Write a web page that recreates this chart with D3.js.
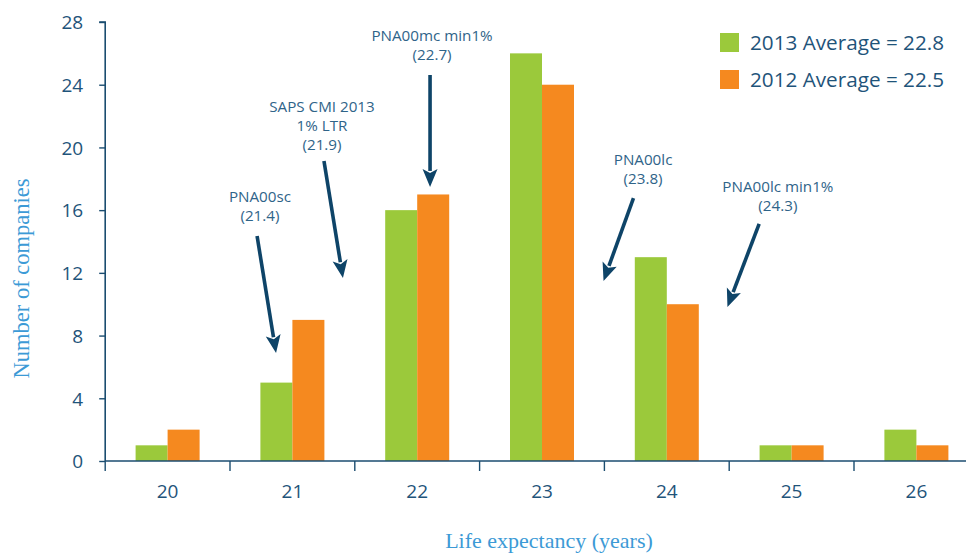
<!DOCTYPE html>
<html>
<head>
<meta charset="utf-8">
<script src="https://cdn.jsdelivr.net/npm/d3@7"></script>
<style>
  html, body { margin: 0; padding: 0; background: #ffffff; }
  svg { display: block; }
</style>
</head>
<body>
<svg id="chart" width="966" height="555"></svg>
<script>
// Life expectancy distribution, number of companies per year of life expectancy
const categories = ["20", "21", "22", "23", "24", "25", "26"];
const seriesNames = ["2013 Average = 22.8", "2012 Average = 22.5"];
const values2013 = [1, 5, 16, 26, 13, 1, 2];
const values2012 = [2, 9, 17, 24, 10, 1, 1];
const yTicks = [0, 4, 8, 12, 16, 20, 24, 28];

// Mortality table callouts (label lines)
const calloutLabels = [
  ["PNA00sc", "(21.4)"],
  ["SAPS CMI 2013", "1% LTR", "(21.9)"],
  ["PNA00mc min1%", "(22.7)"],
  ["PNA00lc", "(23.8)"],
  ["PNA00lc min1%", "(24.3)"]
];

const colors = ["#9bc93b", "#f5891f"];
const axisColor = "#1b4d70";
const tickTextColor = "#1f547a";
const titleColor = "#3c9ad6";
const noteColor = "#2f6489";
const arrowColor = "#0e4468";

const svg = d3.select("#chart");
const margin = { left: 105.2, top: 22, bottom: 461 };
const bandW = 124.8;

const x = d3.scaleBand()
  .domain(categories)
  .range([margin.left, margin.left + bandW * categories.length])
  .padding(0);

// continuous companion of the band scale, in years
const xLin = d3.scaleLinear()
  .domain([19.5, 19.5 + categories.length])
  .range(x.range());

const y = d3.scaleLinear().domain([0, 28]).range([margin.bottom, margin.top]);

const barW = 32;
const sub = d3.scaleBand()
  .domain([0, 1])
  .range([x.bandwidth() / 2 - barW, x.bandwidth() / 2 + barW])
  .padding(0);

// bars
const series = [values2013, values2012];
const g = svg.append("g");
series.forEach((vals, si) => {
  g.selectAll(".bar" + si)
    .data(vals)
    .enter().append("rect")
    .attr("x", (d, i) => x(categories[i]) + sub(si))
    .attr("y", d => y(d))
    .attr("width", sub.bandwidth())
    .attr("height", d => y(0) - y(d))
    .attr("fill", colors[si]);
});

// y axis
const yAxis = svg.append("g")
  .attr("transform", `translate(${margin.left},0)`)
  .call(d3.axisLeft(y).tickValues(yTicks).tickSize(6).tickPadding(16));
yAxis.select(".domain").attr("stroke", axisColor).attr("stroke-width", 1.6)
  .attr("d", `M-6,${y(28)}H0V${y(0)}`);
yAxis.selectAll(".tick line").attr("stroke", axisColor).attr("stroke-width", 1.4);
yAxis.selectAll(".tick text")
  .attr("fill", tickTextColor)
  .attr("font-family", "'Open Sans', sans-serif")
  .attr("font-size", 19)
  .attr("dy", "0.36em");

// x axis: ticks at band boundaries
const xAxisG = svg.append("g").attr("transform", `translate(0,${y(0)})`);
const [r0, r1] = x.range();
xAxisG.append("line")
  .attr("x1", r0).attr("x2", r1)
  .attr("stroke", axisColor).attr("stroke-width", 1.6);
const bounds = categories.map(c => x(c));
xAxisG.selectAll(".bound").data(bounds).enter().append("line")
  .attr("x1", d => d).attr("x2", d => d)
  .attr("y1", 0).attr("y2", 10)
  .attr("stroke", axisColor).attr("stroke-width", 1.4);
xAxisG.selectAll(".lbl").data(categories).enter().append("text")
  .attr("x", d => x(d) + x.bandwidth() / 2)
  .attr("y", 37)
  .attr("text-anchor", "middle")
  .attr("fill", tickTextColor)
  .attr("font-family", "'Open Sans', sans-serif")
  .attr("font-size", 19)
  .text(d => d);

// axis titles
svg.append("text")
  .attr("transform", `translate(29,${(y(0) + y(28)) / 2 + 37}) rotate(-90)`)
  .attr("text-anchor", "middle")
  .attr("fill", titleColor)
  .attr("font-family", "'Liberation Serif', 'Times New Roman', serif")
  .attr("font-size", 22.5)
  .text("Number of companies");
svg.append("text")
  .attr("x", 549)
  .attr("y", 548)
  .attr("text-anchor", "middle")
  .attr("fill", titleColor)
  .attr("font-family", "'Liberation Serif', 'Times New Roman', serif")
  .attr("font-size", 22)
  .text("Life expectancy (years)");

// legend
const legend = svg.append("g");
seriesNames.forEach((name, i) => {
  legend.append("rect")
    .attr("x", 720).attr("y", 33 + i * 37)
    .attr("width", 19).attr("height", 19)
    .attr("fill", colors[i]);
  legend.append("text")
    .attr("x", 750).attr("y", 49.5 + i * 37)
    .attr("fill", tickTextColor)
    .attr("font-family", "'Open Sans', sans-serif")
    .attr("font-size", 20.7)
    .text(name);
});

// callouts: text anchor and arrow tail/tip in (years, companies) units
const calloutPlacement = [
  { tx: 20.74, ty: 16.52, from: [20.717, 14.35], to: [20.869, 6.89] },
  { tx: 21.237, ty: 22.23, from: [21.253, 19.13], to: [21.405, 11.67] },
  { tx: 22.119, ty: 26.79, from: [22.103, 24.62], to: [22.103, 17.48] },
  { tx: 23.81, ty: 18.88, from: [23.733, 16.77], to: [23.493, 11.48] },
  { tx: 24.89, ty: 17.16, from: [24.74, 15.12], to: [24.486, 9.82] }
];

const notes = svg.append("g");
calloutLabels.forEach((lines, i) => {
  const p = calloutPlacement[i];
  const t = notes.append("text")
    .attr("text-anchor", "middle")
    .attr("fill", noteColor)
    .attr("font-family", "'Open Sans', sans-serif")
    .attr("font-size", 15.2);
  lines.forEach((ln, k) => {
    t.append("tspan")
      .attr("x", xLin(p.tx))
      .attr("y", y(p.ty) + k * 19)
      .text(ln);
  });

  const x1 = xLin(p.from[0]), y1 = y(p.from[1]);
  const x2 = xLin(p.to[0]), y2 = y(p.to[1]);
  const dx = x2 - x1, dy = y2 - y1;
  const len = Math.hypot(dx, dy);
  const ux = dx / len, uy = dy / len;
  const headL = 18, headW = 7.5;
  const bx = x2 - ux * headL, by = y2 - uy * headL;
  notes.append("line")
    .attr("x1", x1).attr("y1", y1)
    .attr("x2", bx + ux * 2).attr("y2", by + uy * 2)
    .attr("stroke", arrowColor).attr("stroke-width", 3.6);
  notes.append("path")
    .attr("d", `M${x2},${y2}L${bx - uy * headW},${by + ux * headW}L${bx + ux * 4},${by + uy * 4}L${bx + uy * headW},${by - ux * headW}Z`)
    .attr("fill", arrowColor);
});
</script>
</body>
</html>
